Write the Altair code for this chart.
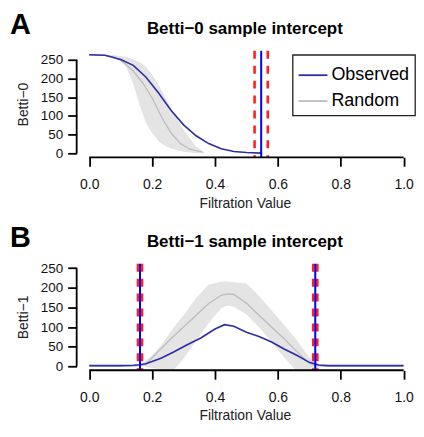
import altair as alt
import pandas as pd

# ---------------- data ----------------
X_TICKS = [0.0, 0.2, 0.4, 0.6, 0.8, 1.0]
Y_TICKS = [0, 50, 100, 150, 200, 250]
X_LIM = [-0.04, 1.03]
A_YLIM = [-10.6, 274.0]
B_YLIM = [-10.2, 261.4]
SERIES = ["Observed", "Random"]
PANEL_LETTERS = ["A", "B"]
PANEL_TITLES = ["Betti\u22120 sample intercept", "Betti\u22121 sample intercept"]
Y_TITLES = ["Betti\u22120", "Betti\u22121"]

# Panel A (Betti-0)
A_OBS_X = [0, 0.05, 0.10, 0.14, 0.18, 0.22, 0.26, 0.30, 0.34, 0.38, 0.42, 0.46, 0.50, 0.547]
A_OBS_Y = [263.5, 262, 251, 235, 204, 162, 115, 76, 47, 26, 12, 5, 2, 0.5]
A_RND_X = [0, 0.05, 0.08, 0.11, 0.14, 0.17, 0.20, 0.23, 0.26, 0.29, 0.32, 0.36]
A_RND_Y = [263.5, 262, 257, 243, 220, 188, 148, 97, 55, 26, 11, 3]
A_BAND_X = [0, 0.04, 0.08, 0.10, 0.12, 0.14, 0.16, 0.18, 0.20, 0.22, 0.24, 0.26, 0.28, 0.30, 0.32, 0.34, 0.366]
A_BAND_LO = [263.5, 262, 255, 247, 227, 186, 130, 82, 54, 33, 20, 13, 8, 4.5, 2.5, 1, 0]
A_BAND_HI = [263.5, 263.5, 262, 260, 257, 251, 244, 232, 210, 184, 154, 120, 91, 63, 40, 18, 2]
A_INTERCEPT = [0.547]
A_CI = [0.526, 0.568]

# Panel B (Betti-1)
B_OBS_X = [0, 0.10, 0.14, 0.16, 0.18, 0.20, 0.23, 0.27, 0.31, 0.355, 0.40, 0.43, 0.46, 0.50,
           0.54, 0.58, 0.62, 0.66, 0.70, 0.73, 0.76, 1.0]
B_OBS_Y = [1.5, 1.5, 2.5, 4, 6.5, 12, 21, 37, 54, 72, 95, 106, 102, 87, 76, 62, 44, 28, 10, 3, 1.5, 1.5]
B_RND_X = [0, 0.14, 0.18, 0.22, 0.26, 0.30, 0.34, 0.38, 0.42, 0.44, 0.46, 0.50, 0.54, 0.58,
           0.62, 0.66, 0.70, 0.72, 0.76, 1.0]
B_RND_Y = [0.5, 0.5, 5, 38, 70, 100, 130, 160, 181, 184.5, 183, 161, 130, 100, 70, 38, 8, 2, 0.5, 0.5]
B_BAND_X = [0, 0.14, 0.17, 0.20, 0.23, 0.27, 0.30, 0.34, 0.38, 0.42, 0.44, 0.46, 0.50, 0.54,
            0.58, 0.62, 0.655, 0.70, 0.74, 0.78, 1.0]
B_BAND_LO = [0, 0, 0, -5, -8, -8, 20, 65, 110, 148, 155, 152, 132, 100, 62, 22, -8, -8, -2, 0, 0]
B_BAND_HI = [0, 0, 8, 28, 55, 100, 130, 175, 208, 216, 216, 214, 211, 180, 143, 105, 72, 22, 3, 0, 0]
B_INTERCEPT = [0.1615, 0.719]
B_CI = [0.155, 0.168, 0.7125, 0.7255]

# ---------------- style ----------------
FONT = "Liberation Sans"
OBS_COLOR = "#2d2da8"
RND_COLOR = "#bdbdbd"
BAND_COLOR = "#e4e4e4"
VLINE_COLOR = "#0000ff"
CI_COLOR = "#ff2020"
W, H = 338, 107


def panel(idx, obs_x, obs_y, rnd_x, rnd_y, band_x, band_lo, band_hi, ylim, inter, ci, with_legend):
    xs = alt.Scale(domain=X_LIM, nice=False, zero=False)
    ys = alt.Scale(domain=ylim, nice=False, zero=False)
    xax = alt.Axis(values=X_TICKS, format=".1f", title="Filtration Value", domain=False, grid=False,
                   tickSize=9, tickWidth=1.8, tickColor="black", labelPadding=11,
                   labelFontSize=14, titleFontSize=14, titlePadding=5, labelFlush=False)
    yax = alt.Axis(values=Y_TICKS, format="d", title=Y_TITLES[idx], domain=False, grid=False,
                   tickSize=9, tickWidth=1.8, tickColor="black", labelPadding=5,
                   labelFontSize=13.5, titleFontSize=14, titlePadding=10)

    def X(field):
        return alt.X(field, type="quantitative", scale=xs, axis=xax)

    def Y(field):
        return alt.Y(field, type="quantitative", scale=ys, axis=yax)

    band_df = pd.DataFrame({"x": band_x, "lo": band_lo, "hi": band_hi})
    obs_df = pd.DataFrame({"x": obs_x, "y": obs_y, "series": SERIES[0]})
    rnd_df = pd.DataFrame({"x": rnd_x, "y": rnd_y, "series": SERIES[1]})
    inter_df = pd.DataFrame({"x": inter})
    ci_df = pd.DataFrame({"x": ci})
    xline_df = pd.DataFrame({"x": [X_TICKS[0]], "x2": [X_TICKS[-1]], "y": [ylim[0]]})
    yline_df = pd.DataFrame({"x": [X_LIM[0]], "y": [Y_TICKS[0]], "y2": [Y_TICKS[-1]]})
    head_df = pd.DataFrame({"letter": [PANEL_LETTERS[idx]], "title": [PANEL_TITLES[idx]]})

    if with_legend:
        cscale = alt.Scale(domain=SERIES, range=[OBS_COLOR, RND_COLOR])
        leg = alt.Legend(orient="none", legendX=217, legendY=4, title=None, strokeColor="#222",
                         padding=5, symbolType="stroke", symbolSize=841, symbolStrokeWidth=1.8,
                         labelFontSize=18, labelFont=FONT, labelColor="black", rowPadding=1,
                         labelOffset=3, fillColor="white")
        rnd_color = alt.Color("series:N", scale=cscale, legend=leg)
        obs_color = alt.Color("series:N", scale=cscale, legend=leg)
    else:
        rnd_color = alt.value(RND_COLOR)
        obs_color = alt.value(OBS_COLOR)

    band = alt.Chart(band_df).mark_area(color=BAND_COLOR).encode(x=X("x"), y=Y("lo"), y2="hi")
    rnd = alt.Chart(rnd_df).mark_line(strokeWidth=1.3).encode(x=X("x"), y=Y("y"), color=rnd_color)
    obs = alt.Chart(obs_df).mark_line(strokeWidth=1.6).encode(x=X("x"), y=Y("y"), color=obs_color)
    cis = alt.Chart(ci_df).mark_rule(color=CI_COLOR, strokeWidth=2.6, strokeDash=[8, 7]).encode(x=X("x"))
    ints = alt.Chart(inter_df).mark_rule(color=VLINE_COLOR, strokeWidth=2).encode(x=X("x"))
    xline = alt.Chart(xline_df).mark_rule(color="black", strokeWidth=1.8).encode(
        x=X("x"), x2="x2", y=Y("y"))
    yline = alt.Chart(yline_df).mark_rule(color="black", strokeWidth=1.8).encode(
        x=X("x"), y=Y("y"), y2="y2")
    letter = alt.Chart(head_df).mark_text(font=FONT, fontSize=29, fontWeight="bold", align="left",
                                          baseline="alphabetic", color="black").encode(
        text="letter:N", x=alt.value(-67), y=alt.value(-17))
    title = alt.Chart(head_df).mark_text(font=FONT, fontSize=17, fontWeight="bold", align="center",
                                         baseline="alphabetic", color="black").encode(
        text="title:N", x=alt.value(W / 2), y=alt.value(-17))

    return alt.layer(band, rnd, obs, cis, ints, xline, yline, letter, title).properties(
        width=W, height=H)


pa = panel(0, A_OBS_X, A_OBS_Y, A_RND_X, A_RND_Y, A_BAND_X, A_BAND_LO, A_BAND_HI,
           A_YLIM, A_INTERCEPT, A_CI, True)
pb = panel(1, B_OBS_X, B_OBS_Y, B_RND_X, B_RND_Y, B_BAND_X, B_BAND_LO, B_BAND_HI,
           B_YLIM, B_INTERCEPT, B_CI, False)

chart = alt.vconcat(pa, pb, spacing=14).resolve_scale(color="independent").resolve_legend(
    color="independent").properties(
    padding={"left": 2, "top": 2, "right": 0, "bottom": 0}, background="white").configure_view(
    stroke=None).configure_axis(labelFont=FONT, titleFont=FONT, labelColor="#111",
                                titleColor="#222", titleFontWeight="normal").configure_legend(
    strokeWidth=1.3)

chart.save("out.html", embed_options={"renderer": "svg", "actions": False})
